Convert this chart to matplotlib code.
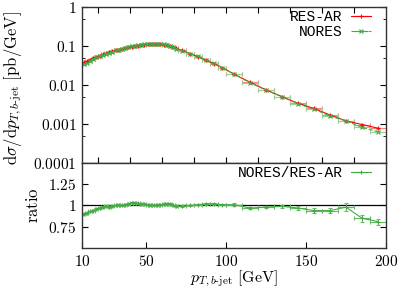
import numpy as np
import matplotlib
matplotlib.use("Agg")
import matplotlib.pyplot as plt
from matplotlib.ticker import FixedLocator, NullFormatter

plt.rcParams['mathtext.fontset'] = 'cm'
plt.rcParams['font.family'] = 'DejaVu Serif'

# bin edges (GeV): 2 GeV up to 70, 5 GeV up to 100, 10 GeV up to 200
bin_lo = [10, 12, 14, 16, 18, 20, 22, 24, 26, 28, 30, 32, 34, 36, 38,
          40, 42, 44, 46, 48, 50, 52, 54, 56, 58, 60, 62, 64, 66, 68,
          70, 75, 80, 85, 90, 95,
          100, 110, 120, 130, 140, 150, 160, 170, 180, 190]
bin_hi = [12, 14, 16, 18, 20, 22, 24, 26, 28, 30, 32, 34, 36, 38, 40,
          42, 44, 46, 48, 50, 52, 54, 56, 58, 60, 62, 64, 66, 68, 70,
          75, 80, 85, 90, 95, 100,
          110, 120, 130, 140, 150, 160, 170, 180, 190, 200]

# dsigma/dpT [pb/GeV]
res_ar = [0.038, 0.041, 0.045, 0.049, 0.053, 0.057, 0.061, 0.065, 0.069, 0.073,
          0.077, 0.081, 0.085, 0.089, 0.093, 0.097, 0.100, 0.103, 0.106, 0.108,
          0.110, 0.111, 0.112, 0.112, 0.111, 0.108, 0.104, 0.099, 0.093, 0.087,
          0.077, 0.064, 0.053, 0.043, 0.035, 0.028,
          0.019, 0.0118, 0.0075, 0.0050, 0.0034, 0.0025, 0.0017, 0.0012, 0.00097, 0.00078]
nores = [0.034, 0.037, 0.042, 0.046, 0.051, 0.055, 0.060, 0.064, 0.068, 0.072,
         0.077, 0.081, 0.085, 0.090, 0.095, 0.100, 0.103, 0.106, 0.108, 0.110,
         0.111, 0.112, 0.112, 0.113, 0.112, 0.110, 0.106, 0.101, 0.093, 0.086,
         0.076, 0.064, 0.054, 0.044, 0.036, 0.028,
         0.019, 0.0114, 0.0074, 0.0050, 0.0033, 0.0024, 0.0016, 0.0012, 0.00082, 0.00063]
ratio = [0.90, 0.91, 0.93, 0.94, 0.96, 0.97, 0.98, 0.99, 0.985, 0.99,
         1.0, 1.005, 1.0, 1.01, 1.02, 1.035, 1.03, 1.025, 1.02, 1.015,
         1.01, 1.005, 1.0, 1.005, 1.01, 1.015, 1.02, 1.02, 1.0, 0.99,
         0.99, 1.0, 1.01, 1.02, 1.02, 1.01,
         1.01, 0.97, 0.98, 0.99, 0.97, 0.94, 0.94, 0.98, 0.85, 0.81]
ratio_err = [0.01] * 30 + [0.01] * 6 + [0.015, 0.015, 0.015, 0.02, 0.02, 0.025, 0.025, 0.05, 0.04, 0.035]

lo = np.array(bin_lo, float)
hi = np.array(bin_hi, float)
xc = 0.5 * (lo + hi)
xe = 0.5 * (hi - lo)
res_ar = np.array(res_ar)
nores = np.array(nores)
ratio = np.array(ratio)

red = '#ff0000'
green = '#44aa44'
mono = {'family': 'Liberation Mono', 'size': 10.5}

fig = plt.figure(figsize=(3.99, 2.88), dpi=100)
ax1 = fig.add_axes([0.2055, 0.434, 0.762, 0.5417])
ax2 = fig.add_axes([0.2055, 0.139, 0.762, 0.295])

ax1.errorbar(xc, res_ar, xerr=xe, yerr=0.02 * res_ar, color=red, lw=0.8,
             marker='+', ms=3, mew=0.8, ecolor='#ff8080', elinewidth=0.8,
             capsize=1.5)
ax1.errorbar(xc, nores, xerr=xe, yerr=0.03 * nores, color=green, lw=0.8, ls='--',
             marker='x', ms=2.5, mew=0.8, ecolor='#99d099', elinewidth=0.8,
             capsize=1.5)
# legend-only proxies (horizontal bar with caps)
ax1.errorbar([], [], xerr=[], color=red, lw=0.8, marker='+', ms=3, mew=0.8,
             ecolor=red, elinewidth=0.8, capsize=1.5, label='RES-AR')
ax1.errorbar([], [], xerr=[], color=green, lw=0.8, ls='--', marker='x', ms=2.5,
             mew=0.8, ecolor=green, elinewidth=0.8, capsize=1.5, label='NORES')

ax1.set_yscale('log')
ax1.set_xlim(10, 200)
ax1.set_ylim(1e-4, 1)
ax1.yaxis.set_major_locator(FixedLocator([1e-4, 1e-3, 1e-2, 1e-1, 1]))
ax1.yaxis.set_minor_locator(FixedLocator([5e-4, 5e-3, 5e-2, 5e-1]))
ax1.set_yticklabels([r'$0.0001$', r'$0.001$', r'$0.01$', r'$0.1$', r'$1$'])
ax1.yaxis.set_minor_formatter(NullFormatter())
ax1.xaxis.set_major_locator(FixedLocator(list(range(20, 200, 20))))
ax1.xaxis.set_major_formatter(NullFormatter())
ax1.set_ylabel(r'$\mathrm{d}\sigma/\mathrm{d}p_{T,b\text{-jet}}\ [\mathrm{pb/GeV}]$', fontsize=12)
ax1.yaxis.set_label_coords(-0.19, 0.48)
ax1.legend(loc='upper right', bbox_to_anchor=(0.96, 1.0), frameon=False,
           markerfirst=False, prop=mono, handlelength=1.35, handletextpad=0.6,
           labelspacing=0.05, borderaxespad=0.0, borderpad=0.2)

ax2.axhline(1.0, color='black', lw=0.9)
ax2.errorbar(xc, ratio, xerr=xe, yerr=ratio_err, color=green, lw=0.8,
             marker='+', ms=3, mew=0.8, ecolor='#66bb66', elinewidth=0.8,
             capsize=1.5)
ax2.errorbar([], [], xerr=[], color=green, lw=0.8, marker='+', ms=3, mew=0.8,
             ecolor=green, elinewidth=0.8, capsize=1.5, label='NORES/RES-AR')
ax2.set_xlim(10, 200)
ax2.set_ylim(0.5, 1.5)
ax2.yaxis.set_major_locator(FixedLocator([0.75, 1.0, 1.25]))
ax2.set_yticklabels([r'$0.75$', r'$1$', r'$1.25$'])
ax2.xaxis.set_major_locator(FixedLocator([10, 50, 100, 150, 200]))
ax2.set_xticklabels([r'$10$', r'$50$', r'$100$', r'$150$', r'$200$'])
ax2.set_ylabel(r'$\mathrm{ratio}$', fontsize=12)
ax2.yaxis.set_label_coords(-0.13, 0.5)
ax2.set_xlabel(r'$p_{T,b\text{-jet}}\ [\mathrm{GeV}]$', fontsize=11.5, labelpad=0)
ax2.legend(loc='upper right', bbox_to_anchor=(0.96, 1.0), frameon=False,
           markerfirst=False, prop=mono, handlelength=1.35, handletextpad=0.6,
           borderaxespad=0.0, borderpad=0.2)

for ax in (ax1, ax2):
    ax.tick_params(which='both', direction='in', top=True, right=True,
                   labelsize=11, pad=4)
    ax.tick_params(which='major', length=4)
    ax.tick_params(which='minor', length=2.5)
    for s in ax.spines.values():
        s.set_color('#333333')
        s.set_linewidth(1.0)
ax2.tick_params(axis='x', which='both', top=False)

fig.savefig('out.png', dpi=100)
